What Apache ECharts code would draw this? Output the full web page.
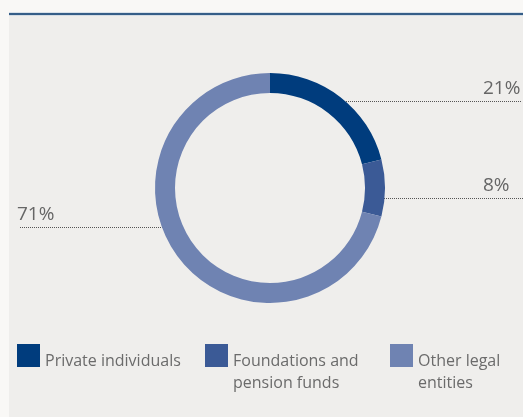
<!DOCTYPE html>
<html>
<head>
<meta charset="utf-8">
<script src="https://cdn.jsdelivr.net/npm/echarts@6/dist/echarts.min.js"></script>
<style>
html,body{margin:0;padding:0;background:#f9f8f6;}
#c{width:523px;height:417px;}
</style>
</head>
<body>
<div id="c"></div>
<script>
const categories = ['Private individuals', 'Foundations and pension funds', 'Other legal entities'];
const legendLines = [['Private individuals', ' '], ['Foundations and', 'pension funds'], ['Other legal', 'entities']];
const values = [21, 8, 71];
const colors = ['#003c7d', '#3b5a96', '#6f83b2'];

// layout of label anchors (text position and leader line endpoints)
const labelPos = [
  {tx: 483, ty: 89, line: [[340, 101.5], [522, 101.5]]},
  {tx: 483, ty: 186, line: [[378, 198.5], [523, 198.5]]},
  {tx: 17, ty: 214.5, line: [[169, 227.5], [19, 227.5]]}
];
const legendLeft = [17, 205, 390];

const chart = echarts.init(document.getElementById('c'), null, {renderer: 'canvas'});
const FONT = '"Open Sans", "Noto Sans", sans-serif';
const TXT = {color: '#6b6b6b', fontFamily: FONT, fontSize: 16, lineHeight: 22};

const option = {
  backgroundColor: '#f9f8f6',
  animation: false,
  graphic: [
    {type: 'rect', shape: {x: 9, y: 13, width: 514, height: 404}, style: {fill: '#efeeec'}, z: -10},
    {type: 'rect', shape: {x: 9, y: 12.5, width: 514, height: 3}, style: {fill: '#b9cadc'}, z: -9},
    {type: 'rect', shape: {x: 9, y: 13.3, width: 514, height: 1.4}, style: {fill: '#0b3a6c'}, z: -8}
  ],
  legend: legendLeft.map((l, i) => ({
    left: l,
    top: 316.5,
    padding: 0,
    itemWidth: 23,
    itemHeight: 23,
    itemGap: 0,
    icon: 'rect',
    selectedMode: false,
    data: [{name: categories[i], itemStyle: {color: colors[i]}}],
    formatter: (name) => {
      const ln = legendLines[categories.indexOf(name)];
      return '{s| }\n{t|' + ln[0] + '}\n{t|' + ln[1] + '}';
    },
    textStyle: Object.assign({}, TXT, {
      rich: {
        s: {fontSize: 4, lineHeight: 34, height: 34},
        t: TXT
      }
    })
  })),
  series: [{
    type: 'pie',
    center: [270, 188],
    radius: [95, 115],
    startAngle: 90,
    clockwise: true,
    silent: true,
    label: {
      show: true,
      position: 'outside',
      formatter: '{c}%',
      color: '#666666',
      fontFamily: FONT,
      fontSize: 19
    },
    labelLine: {
      show: true,
      lineStyle: {color: '#555555', width: 1, type: [1, 1]}
    },
    labelLayout: (p) => {
      const lp = labelPos[p.dataIndex];
      return {
        x: lp.tx, y: lp.ty, align: 'left', verticalAlign: 'middle',
        labelLinePoints: [lp.line[0], lp.line[0], lp.line[1]]
      };
    },
    itemStyle: {borderWidth: 0},
    emphasis: {disabled: true},
    data: categories.map((c, i) => ({name: c, value: values[i], itemStyle: {color: colors[i]}}))
  }]
};
chart.setOption(option);
</script>
</body>
</html>
